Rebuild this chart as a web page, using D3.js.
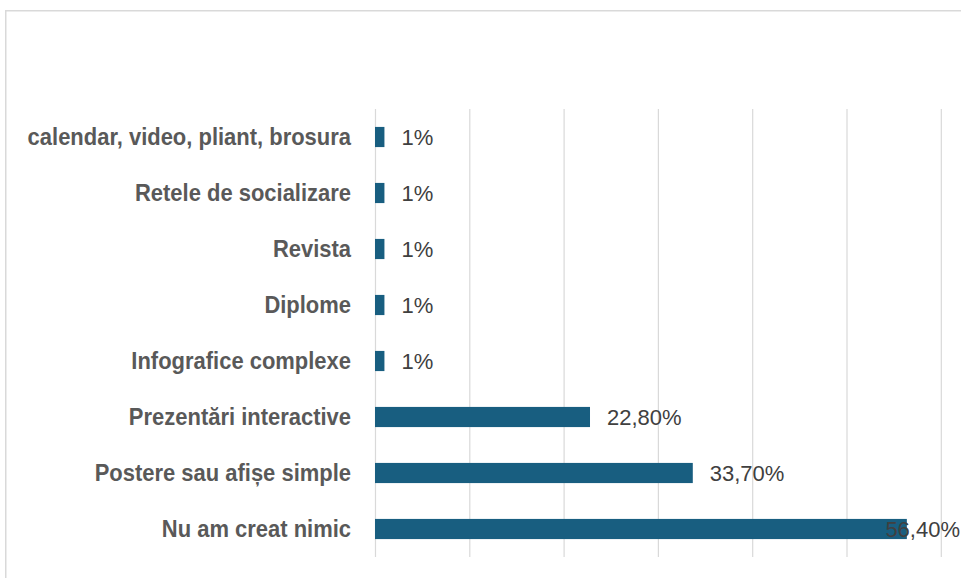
<!DOCTYPE html>
<html>
<head>
<meta charset="utf-8">
<script src="https://cdn.jsdelivr.net/npm/d3@7"></script>
<style>
  html, body { margin: 0; padding: 0; background: #fff; }
  svg { display: block; }
</style>
</head>
<body>
<svg id="chart" width="961" height="578"></svg>
<script>
// Response categories, top to bottom
const categories = [
  "calendar, video, pliant, brosura",
  "Retele de socializare",
  "Revista",
  "Diplome",
  "Infografice complexe",
  "Prezentări interactive",
  "Postere sau afișe simple",
  "Nu am creat nimic"
];
// Share of respondents (%)
const values = [1, 1, 1, 1, 1, 22.8, 33.7, 56.4];
// Labels printed next to each bar
const valueLabels = ["1%", "1%", "1%", "1%", "1%", "22,80%", "33,70%", "56,40%"];
const xTicks = [0, 10, 20, 30, 40, 50, 60];

const W = 961, H = 578;
const margin = { top: 109, right: 20, bottom: 21, left: 375 };
const svg = d3.select("#chart");

// Outer chart frame
svg.append("rect")
  .attr("x", 5.75).attr("y", 10.75)
  .attr("width", 1000).attr("height", 1000)
  .attr("fill", "none")
  .attr("stroke", "#d9d9d9")
  .attr("stroke-width", 1.5);

const x = d3.scaleLinear().domain([0, 60]).range([375, 940.8]);
const y = d3.scaleBand().domain(categories)
  .range([margin.top, H - margin.bottom])
  .paddingInner(0.64).paddingOuter(0.32);

// Vertical gridlines
const grid = svg.append("g")
  .attr("transform", `translate(0,${H - margin.bottom})`)
  .call(d3.axisBottom(x).tickValues(xTicks).tickSize(-(H - margin.bottom - margin.top)).tickFormat(""));
grid.select(".domain").remove();
grid.selectAll(".tick line").attr("stroke", "#d9d9d9").attr("stroke-width", 1.2);

// Category axis (slightly condensed bold labels)
const squeeze = 0.935, pad = 24;
const yAxis = svg.append("g")
  .attr("transform", `translate(${x(0)},0)`)
  .call(d3.axisLeft(y).tickSize(0).tickPadding(pad));
yAxis.select(".domain").remove();
yAxis.selectAll(".tick text")
  .attr("font-family", "'Liberation Sans', Arial, sans-serif")
  .attr("font-weight", "bold")
  .attr("font-size", "23.5px")
  .attr("fill", "#595959")
  .attr("x", -pad / squeeze)
  .attr("transform", `scale(${squeeze},1)`);

// Bars
svg.append("g").selectAll("rect")
  .data(values)
  .join("rect")
  .attr("x", x(0))
  .attr("y", (d, i) => y(categories[i]))
  .attr("width", d => x(d) - x(0))
  .attr("height", y.bandwidth())
  .attr("fill", "#185e80");

// Value labels; kept inside the chart's right edge
const labels = svg.append("g").selectAll("text")
  .data(values)
  .join("text")
  .attr("y", (d, i) => y(categories[i]) + y.bandwidth() / 2)
  .attr("dy", "0.36em")
  .attr("font-family", "'Liberation Sans', Arial, sans-serif")
  .attr("font-size", "22px")
  .attr("fill", "#404040")
  .text((d, i) => valueLabels[i]);
labels.each(function(d) {
  const w = this.getComputedTextLength();
  const px = Math.min(x(d) + 17, W - 1 - w);
  d3.select(this).attr("x", px);
});
</script>
</body>
</html>
